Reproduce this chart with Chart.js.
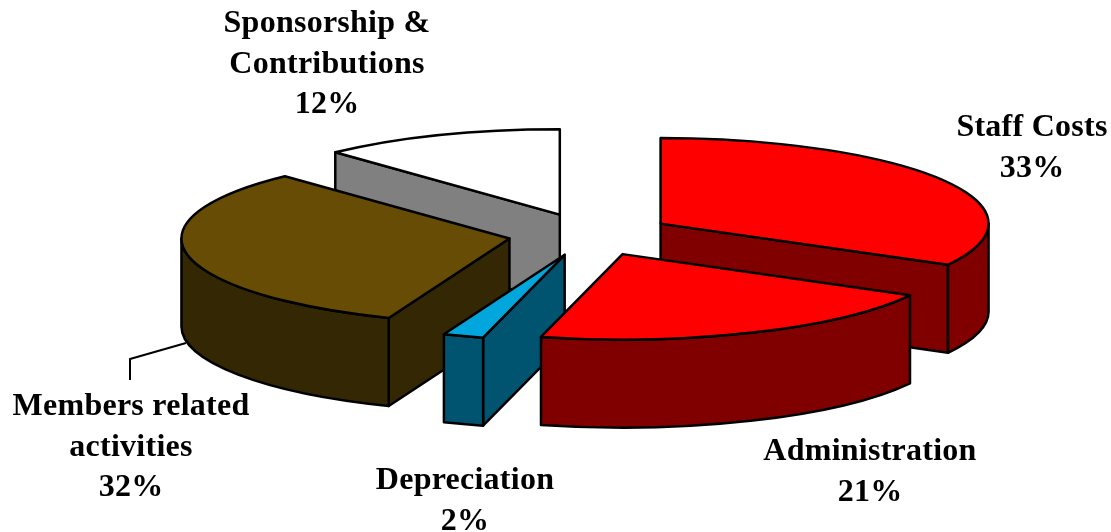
<!DOCTYPE html>
<html>
<head>
<meta charset="utf-8">
<title>Expenses</title>
<style>
  html, body { margin: 0; padding: 0; background: #fff; }
  #wrap { width: 1111px; height: 532px; }
</style>
<script src="https://cdn.jsdelivr.net/npm/chart.js@4/dist/chart.umd.min.js"></script>
</head>
<body>
<div id="wrap"><canvas id="chPie" width="1111" height="532"></canvas></div>
<script>
const categories = ['Staff Costs', 'Administration', 'Depreciation', 'Members related activities', 'Sponsorship & Contributions'];
const values = [33, 21, 2, 32, 12];
const labelLines = [['Staff Costs'], ['Administration'], ['Depreciation'], ['Members related', 'activities'], ['Sponsorship &', 'Contributions']];
const topColors = ['#ff0000', '#ff0000', '#00a6dc', '#664c04', '#ffffff'];
const wallColors = ['#800000', '#800000', '#005470', '#342704', '#808080'];

// look of the tilted pie
const RADIUS = 328;
const TILT = 85.5 / 328;
const DEPTH = 88;
const EXPLODE = 82;
const DRAW_ORDER = [4, 3, 2, 0, 1];

// where the label blocks sit: centre x, first baseline
const labelPos = [[1032, 136], [870, 460], [465, 489], [131, 415], [327, 32]];
const LINE_H = 40.5;

const tiltedPie = {
    id: 'tiltedPie',
    beforeDatasetDraw(chart, args) {
        const ctx = chart.ctx;
        const arcs = args.meta.data;
        ctx.lineJoin = 'round';
        ctx.lineWidth = 2.5;
        ctx.strokeStyle = '#000';

        DRAW_ORDER.forEach(function(i) {
            const arc = arcs[i];
            const p = arc.getProps(['x', 'y', 'startAngle', 'endAngle', 'outerRadius'], true);
            const mid = (p.startAngle + p.endAngle) / 2;
            const cx = p.x + Math.cos(mid) * EXPLODE;
            const cy = p.y + Math.sin(mid) * EXPLODE * TILT;
            const px = a => cx + Math.cos(a) * p.outerRadius;
            const py = a => cy + Math.sin(a) * p.outerRadius * TILT;

            // flat cut faces, only the ones facing us
            [p.startAngle, p.endAngle].forEach(function(a, k) {
                const facing = k === 0 ? Math.cos(a) < -1e-6 : Math.cos(a) > 1e-6;
                if (!facing) return;
                ctx.beginPath();
                ctx.moveTo(cx, cy);
                ctx.lineTo(px(a), py(a));
                ctx.lineTo(px(a), py(a) + DEPTH);
                ctx.lineTo(cx, cy + DEPTH);
                ctx.closePath();
                ctx.fillStyle = wallColors[i];
                ctx.fill();
                ctx.stroke();
            });

            // rim, the part of the arc on the near side
            const from = Math.max(p.startAngle, 0);
            const to = Math.min(p.endAngle, Math.PI);
            if (to > from) {
                ctx.beginPath();
                ctx.ellipse(cx, cy, p.outerRadius, p.outerRadius * TILT, 0, from, to);
                ctx.lineTo(px(to), py(to) + DEPTH);
                ctx.ellipse(cx, cy + DEPTH, p.outerRadius, p.outerRadius * TILT, 0, to, from, true);
                ctx.closePath();
                ctx.fillStyle = wallColors[i];
                ctx.fill();
                ctx.stroke();
            }

            // top, the library's own arc inside a squashed context
            ctx.save();
            ctx.translate(cx, cy);
            ctx.scale(1, TILT);
            ctx.translate(-p.x, -p.y);
            arc.draw(ctx);
            ctx.restore();

            ctx.beginPath();
            ctx.moveTo(cx, cy);
            ctx.ellipse(cx, cy, p.outerRadius, p.outerRadius * TILT, 0, p.startAngle, p.endAngle);
            ctx.closePath();
            ctx.stroke();
        });
        return false;
    },
    afterDraw(chart) {
        const ctx = chart.ctx;
        // leader line of the members label
        ctx.beginPath();
        ctx.lineWidth = 2;
        ctx.strokeStyle = '#000';
        ctx.moveTo(130, 380);
        ctx.lineTo(130, 359);
        ctx.lineTo(186, 343);
        ctx.stroke();

        ctx.fillStyle = '#000';
        ctx.font = 'bold 32px "Liberation Serif"';
        ctx.letterSpacing = '0.25px';
        ctx.textAlign = 'center';
        ctx.textBaseline = 'alphabetic';
        labelLines.forEach(function(lines, i) {
            const pos = labelPos[i];
            lines.concat(values[i] + '%').forEach(function(t, n) {
                ctx.fillText(t, pos[0], pos[1] + n * LINE_H);
            });
        });
    }
};

new Chart(document.getElementById('chPie'), {
    type: 'pie',
    data: {
        labels: categories,
        datasets: [{
            data: values,
            backgroundColor: topColors,
            borderWidth: 0,
            clip: false
        }]
    },
    options: {
        responsive: false,
        animation: false,
        radius: RADIUS,
        layout: { padding: { left: 69, right: 0, top: 0, bottom: 63 } },
        plugins: { legend: { display: false }, tooltip: { enabled: false } }
    },
    plugins: [tiltedPie]
});
</script>
</body>
</html>
